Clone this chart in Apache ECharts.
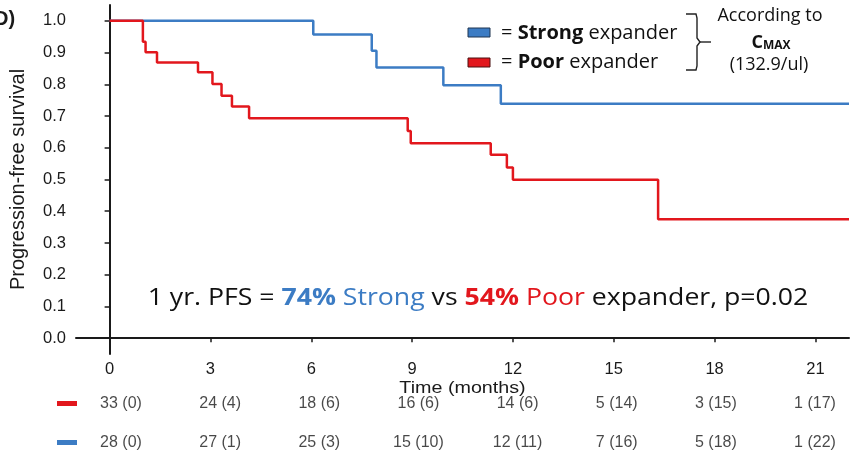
<!DOCTYPE html>
<html>
<head>
<meta charset="utf-8">
<script src="https://cdn.jsdelivr.net/npm/echarts@6/dist/echarts.min.js"></script>
<style>
  html, body { margin: 0; padding: 0; background: #fff; }
  #chart { width: 859px; height: 454px; }
</style>
</head>
<body>
<div id="chart"></div>
<script>
// Kaplan-Meier steps: time (months) and survival after each event
const strongTimes = [0, 6.06, 7.80, 7.94, 9.93, 11.64, 22];
const strongSurv  = [1.0, 0.957, 0.906, 0.853, 0.797, 0.739, 0.739];

const poorTimes = [0, 0.99, 1.07, 1.41, 2.63, 3.06, 3.33, 3.64, 4.15, 8.87, 8.96, 11.34, 11.82, 12.0, 16.32, 22];
const poorSurv  = [1.0, 0.934, 0.901, 0.869, 0.838, 0.801, 0.764, 0.730, 0.693, 0.653, 0.614, 0.578, 0.538, 0.499, 0.375, 0.375];

// axis ticks
const xTicks = [0, 3, 6, 9, 12, 15, 18, 21];
const yTicks = [0, 0.1, 0.2, 0.3, 0.4, 0.5, 0.6, 0.7, 0.8, 0.9, 1.0];

// number at risk (censored) below the axis
const riskTimes  = [0, 3, 6, 9, 12, 15, 18, 21];
const poorRisk   = ['33 (0)', '24 (4)', '18 (6)', '16 (6)', '14 (6)', '5 (14)', '3 (15)', '1 (17)'];
const strongRisk = ['28 (0)', '27 (1)', '25 (3)', '15 (10)', '12 (11)', '7 (16)', '5 (18)', '1 (22)'];

const BLUE = '#3C7CC4';
const RED = '#E2171D';
const AX = '#1a1a1a';
const SANS = '"Liberation Sans", Arial, sans-serif';
const TXT = '"Open Sans", "Noto Sans", sans-serif';

const zip = (a, b) => a.map((v, i) => [v, b[i]]);

const chart = echarts.init(document.getElementById('chart'), null, { renderer: 'canvas' });

const staticGraphics = [
  // panel letter
  { type: 'text', left: -6, top: 9, style: { text: 'D)', font: 'bold 20px ' + SANS, fill: AX } },
  // legend swatches
  { type: 'rect', shape: { x: 468, y: 28, width: 22, height: 9 },
    style: { fill: BLUE, stroke: '#1f3550', lineWidth: 1 } },
  { type: 'rect', shape: { x: 468, y: 58, width: 22, height: 9 },
    style: { fill: RED, stroke: '#4a1010', lineWidth: 1 } },
  { type: 'text', x: 501, y: 33,
    style: {
      text: '{n|= }{b|Strong}{n| expander}', verticalAlign: 'middle',
      rich: {
        n: { fontFamily: TXT, fontSize: 20, fill: '#111' },
        b: { fontFamily: TXT, fontSize: 20, fontWeight: 'bold', fill: '#111' }
      }
    } },
  { type: 'text', x: 501, y: 62,
    style: {
      text: '{n|= }{b|Poor}{n| expander}', verticalAlign: 'middle',
      rich: {
        n: { fontFamily: TXT, fontSize: 20, fill: '#111' },
        b: { fontFamily: TXT, fontSize: 20, fontWeight: 'bold', fill: '#111' }
      }
    } },
  // brace
  { type: 'polyline', shape: { points: [[686, 14], [696, 14], [697, 18], [697, 38], [700, 42], [697, 46], [697, 66], [696, 70], [686, 70]] },
    style: { stroke: '#222', lineWidth: 1.4, fill: null } },
  { type: 'line', shape: { x1: 700, y1: 42, x2: 711, y2: 42 }, style: { stroke: '#222', lineWidth: 1.4 } },
  // cutoff note
  { type: 'text', x: 770, y: 16,
    style: { text: 'According to', font: '18px ' + TXT, fill: '#111', align: 'center', verticalAlign: 'middle' } },
  { type: 'text', x: 771, y: 43,
    style: {
      text: '{c|C}{s|MAX}', align: 'center', verticalAlign: 'middle',
      rich: {
        c: { fontFamily: TXT, fontSize: 18, fontWeight: 'bold', fill: '#111' },
        s: { fontFamily: TXT, fontSize: 12, fontWeight: 'bold', fill: '#111', padding: [6, 0, 0, 0] }
      }
    } },
  { type: 'text', x: 769, y: 65,
    style: { text: '(132.9/ul)', font: '18px ' + TXT, fill: '#111', align: 'center', verticalAlign: 'middle' } },
  // 1-year PFS summary
  { type: 'text', x: 478, y: 298, scaleX: 1.11,
    style: {
      text: '{n|1 yr. PFS = }{bb|74%}{b| Strong}{n| vs }{rb|54%}{r| Poor}{n| expander, p=0.02}',
      align: 'center', verticalAlign: 'middle',
      rich: {
        n:  { fontFamily: TXT, fontSize: 24, fill: '#111' },
        bb: { fontFamily: TXT, fontSize: 24, fontWeight: 'bold', fill: BLUE },
        b:  { fontFamily: TXT, fontSize: 24, fill: BLUE },
        rb: { fontFamily: TXT, fontSize: 24, fontWeight: 'bold', fill: RED },
        r:  { fontFamily: TXT, fontSize: 24, fill: RED }
      }
    } },
  // risk table row markers
  { type: 'rect', shape: { x: 57, y: 401, width: 20, height: 5 }, style: { fill: RED } },
  { type: 'rect', shape: { x: 57, y: 440, width: 20, height: 5 }, style: { fill: BLUE } }
];

chart.setOption({
  animation: false,
  backgroundColor: '#fff',
  grid: [
    { left: 76, right: 10, top: 5, bottom: 100 },
    // risk table strip: row 1 at y=1, row 2 at y=0
    { left: 121, right: 44, top: 404, height: 38.5 }
  ],
  xAxis: [
    {
      gridIndex: 0, type: 'value', min: -1, max: 22,
      axisLine: { lineStyle: { color: AX, width: 2 } },
      axisTick: { customValues: xTicks, length: 4, lineStyle: { color: AX, width: 1.5 } },
      axisLabel: { customValues: xTicks, fontFamily: SANS, fontSize: 16.5, color: AX, margin: 7 },
      splitLine: { show: false }
    },
    { gridIndex: 1, type: 'value', min: 0, max: 21, show: false }
  ],
  yAxis: [
    {
      gridIndex: 0, type: 'value', min: -0.05, max: 1.05,
      name: 'Progression-free survival', nameLocation: 'middle', nameGap: 48,
      nameTextStyle: { fontFamily: SANS, fontSize: 20, color: AX },
      axisLine: { show: true, lineStyle: { color: AX, width: 2 } },
      axisTick: { show: true, customValues: yTicks, length: 5, lineStyle: { color: AX, width: 1.5 } },
      axisLabel: {
        customValues: yTicks, fontFamily: SANS, fontSize: 16.5, color: AX, margin: 10,
        formatter: v => v.toFixed(1)
      },
      splitLine: { show: false }
    },
    { gridIndex: 1, type: 'value', min: 0, max: 1, show: false }
  ],
  series: [
    {
      name: 'Strong expander', type: 'line', step: 'end',
      xAxisIndex: 0, yAxisIndex: 0,
      data: zip(strongTimes, strongSurv),
      showSymbol: false, lineStyle: { color: BLUE, width: 2.5 }, z: 3
    },
    {
      name: 'Poor expander', type: 'line', step: 'end',
      xAxisIndex: 0, yAxisIndex: 0,
      data: zip(poorTimes, poorSurv),
      showSymbol: false, lineStyle: { color: RED, width: 2.5 }, z: 3
    },
    {
      type: 'scatter', xAxisIndex: 1, yAxisIndex: 1, symbolSize: 0, silent: true,
      data: riskTimes.map((t, i) => ({ value: [t, 1], label: { formatter: poorRisk[i] } })),
      label: { show: true, position: 'inside', fontFamily: SANS, fontSize: 16, color: AX }
    },
    {
      type: 'scatter', xAxisIndex: 1, yAxisIndex: 1, symbolSize: 0, silent: true,
      data: riskTimes.map((t, i) => ({ value: [t, 0], label: { formatter: strongRisk[i] } })),
      label: { show: true, position: 'inside', fontFamily: SANS, fontSize: 16, color: AX }
    }
  ],
  graphic: staticGraphics
});

// x-axis title, centred under the plotting area and set in a widened face
const mid = chart.convertToPixel({ gridIndex: 0 }, [10.5, -0.05]);
chart.setOption({
  graphic: staticGraphics.concat([
    { type: 'text', x: mid[0], y: 388.5, scaleX: 1.16,
      style: { text: 'Time (months)', font: '17px ' + SANS, fill: AX, align: 'center', verticalAlign: 'middle' } }
  ])
});
</script>
</body>
</html>
